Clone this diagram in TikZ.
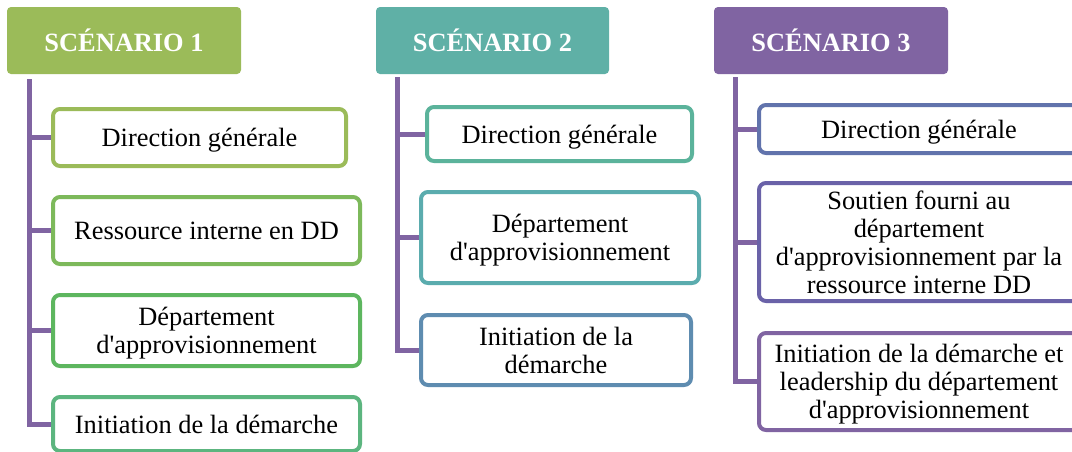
\documentclass[tikz,border=0pt]{standalone}
\usepackage{fontspec}
\setmainfont{Liberation Serif}
\usetikzlibrary{backgrounds}
\definecolor{olive}{HTML}{9BBB59}
\definecolor{teal}{HTML}{5FB0A6}
\definecolor{plum}{HTML}{8064A2}
\definecolor{leafA}{HTML}{7DB95B}
\definecolor{leafB}{HTML}{5DB65F}
\definecolor{leafC}{HTML}{5CB57F}
\definecolor{seaA}{HTML}{5BB39B}
\definecolor{seaB}{HTML}{5BACAE}
\definecolor{seaC}{HTML}{5E8CB0}
\definecolor{duskA}{HTML}{6173AC}
\definecolor{duskB}{HTML}{6A62A8}
\newcommand{\apo}{\textquotesingle}

\begin{document}
\begin{tikzpicture}[x=1pt,y=-1pt,
  font=\fontsize{26.4}{28}\selectfont,
  hdr/.style={fill=#1,text=white,rounded corners=4pt,inner sep=0pt,font=\fontsize{26.4}{28}\selectfont\bfseries,minimum height=67pt},
  item/.style={draw=#1,line width=4pt,rounded corners=7pt,fill=white,inner sep=2pt,align=center,text depth=0pt},
  link/.style={draw=plum,line width=5pt}]
  \useasboundingbox (0,0) rectangle (1072,451);
  \clip (0,0) rectangle (1072,451);

  % scenario 1
  \node[hdr=olive,minimum width=234pt] (h1) at (124,40.5) {SCÉNARIO 1};
  \node[item=olive,minimum width=293pt,minimum height=57pt] (p11) at (199.5,137.5) {Direction générale};
  \node[item=leafA,minimum width=307pt,minimum height=67pt] (p12) at (206.5,230.5) {Ressource interne en DD};
  \node[item=leafB,minimum width=307pt,minimum height=71pt] (p13) at (206.5,330.5) {Département\\d\apo approvisionnement};
  \node[item=leafC,minimum width=307pt,minimum height=54pt] (p14) at (206.5,424) {Initiation de la démarche};
  \coordinate (t1) at (29.5,79);

  % scenario 2
  \node[hdr=teal,minimum width=233pt] (h2) at (492.5,40.5) {SCÉNARIO 2};
  \node[item=seaA,minimum width=265pt,minimum height=54pt] (p21) at (559.5,134) {Direction générale};
  \node[item=seaB,minimum width=278pt,minimum height=91pt] (p22) at (560,237.5) {Département\\d\apo approvisionnement};
  \node[item=seaC,minimum width=270pt,minimum height=70pt] (p23) at (556,350) {Initiation de la\\démarche};
  \coordinate (t2) at (397,77);

  % scenario 3
  \node[hdr=plum,minimum width=234pt] (h3) at (831,40.5) {SCÉNARIO 3};
  \node[item=duskA,minimum width=320pt,minimum height=48pt] (p31) at (919,129) {Direction générale};
  \node[item=duskB,minimum width=320pt,minimum height=118pt] (p32) at (919,242) {Soutien fourni au\\département\\d\apo approvisionnement par la\\ressource interne DD};
  \node[item=plum,minimum width=320pt,minimum height=97pt] (p33) at (919,381.5) {Initiation de la démarche et\\leadership du département\\d\apo approvisionnement};
  \coordinate (t3) at (735,77);

  \begin{scope}[on background layer]
    \fill[white] (0,0) rectangle (1072,451);
    \foreach \k in {p11,p12,p13,p14} \draw[link] (t1) |- (\k.west);
    \foreach \k in {p21,p22,p23} \draw[link] (t2) |- (\k.west);
    \foreach \k in {p31,p32,p33} \draw[link] (t3) |- (\k.west);
  \end{scope}
\end{tikzpicture}
\end{document}
